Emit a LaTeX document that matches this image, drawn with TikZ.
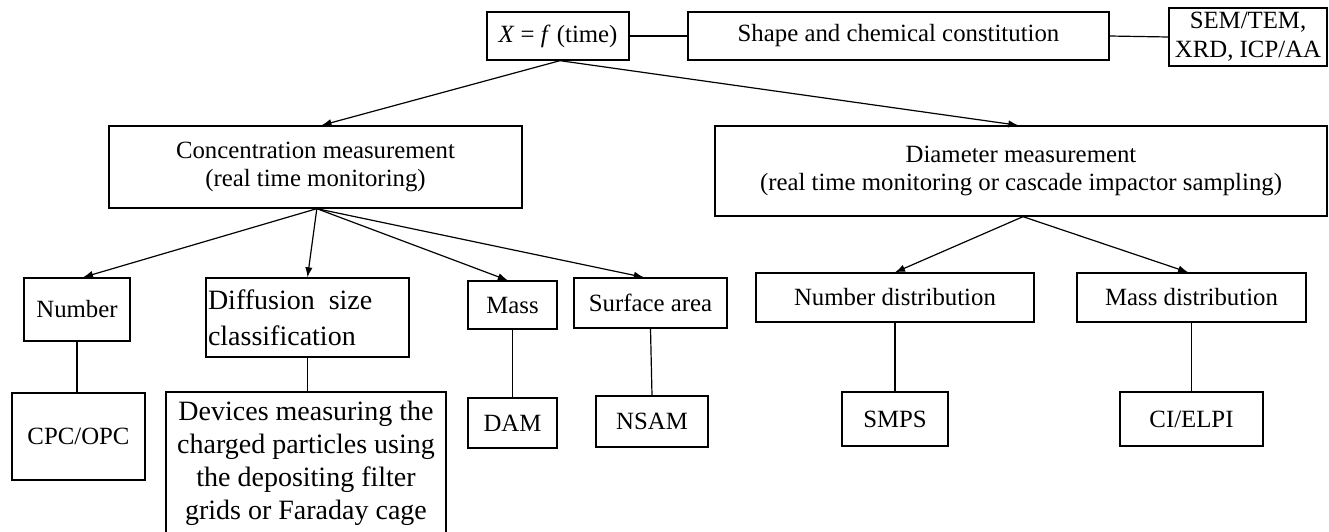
\documentclass[tikz,border=0pt]{standalone}
\usepackage{fontspec}
\setmainfont{Liberation Serif}
\usetikzlibrary{arrows.meta}
\begin{document}
\begin{tikzpicture}[x=0.75pt,y=-0.75pt,
  box/.style={draw, line width=1pt, inner sep=0pt, align=center,
    font=\fontsize{18.6}{21.5}\selectfont},
  sz/.style 2 args={minimum width=#1*0.75pt, minimum height=#2*0.75pt},
  arr/.style={-{Latex[length=7.5pt,width=5.5pt]}, line width=0.9pt},
  conn/.style={line width=0.9pt}]
\useasboundingbox[fill=white] (0,0) rectangle (1329,532);

% top row
\node[box, sz={142}{48}] (xf) at (558,36) {\textit{X} = \textit{f} (time)};
\node[box, sz={421}{48}] (shape) at (898.5,36) {Shape and chemical constitution};
\node[box, sz={158}{58}] (sem) at (1248,37) {SEM/TEM,\\XRD, ICP/AA};

% second row
\node[box, sz={413}{82}] (conc) at (315.5,167) {Concentration measurement\\(real time monitoring)};
\node[box, sz={612}{90}] (diam) at (1021,171) {Diameter measurement\\(real time monitoring or cascade impactor sampling)};

% third row
\node[box, sz={106}{63}] (num) at (77,309.5) {Number};
\node[box, sz={203}{79}, text width={199*0.75pt}, align=left, inner xsep=1.5pt,
  font=\fontsize{21}{27}\selectfont] (diff) at (307.5,317.5) {Diffusion\, size\\classification};
\node[box, sz={89}{48}] (mass) at (512.5,305) {Mass};
\node[box, sz={153}{50}] (surf) at (650.5,303) {Surface area};
\node[box, sz={278}{49}] (numd) at (895,297.5) {Number distribution};
\node[box, sz={229}{49}] (massd) at (1191.5,297.5) {Mass distribution};

% bottom row
\node[box, sz={133}{87}] (cpc) at (78.5,436.5) {CPC/OPC};
\node[box, sz={280}{142}, font=\fontsize{21}{24.75}\selectfont] (dev) at (306,463)
  {Devices measuring the\\charged particles using\\the depositing filter\\grids or Faraday cage};
\node[box, sz={89}{50}] (dam) at (512.5,423) {DAM};
\node[box, sz={112}{51}] (nsam) at (652,421.5) {NSAM};
\node[box, sz={106}{54}] (smps) at (895,419) {SMPS};
\node[box, sz={143}{54}] (ci) at (1191.5,419) {CI/ELPI};

% horizontal links
\draw[conn] (xf.east) -- (shape.west);
\draw[conn] (shape.east) -- (sem.west);

% arrows from X
\draw[arr] ([xshift=1.5pt]xf.south) -- ([xshift=4.5pt]conc.north);
\draw[arr] ([xshift=1.5pt]xf.south) -- ([xshift=-2pt]diam.north);

% fan from concentration
\draw[arr] ([xshift=1pt]conc.south) -- ([xshift=4.5pt]num.north);
\draw[arr] ([xshift=1pt]conc.south) -- (diff.north);
\draw[arr] ([xshift=1pt]conc.south) -- ([xshift=-3.5pt]mass.north);
\draw[arr] ([xshift=1pt]conc.south) -- ([xshift=-5pt]surf.north);

% fan from diameter
\draw[arr] ([xshift=1.5pt]diam.south) -- (numd.north);
\draw[arr] ([xshift=1.5pt]diam.south) -- ([xshift=-2.5pt]massd.north);

% vertical links
\draw[conn] (num.south) -- (num.south |- cpc.north);
\draw[conn] (diff.south) -- (diff.south |- dev.north);
\draw[conn] (mass.south) -- (dam.north);
\draw[conn] (surf.south) -- (nsam.north);
\draw[conn] (numd.south) -- (smps.north);
\draw[conn] (massd.south) -- (ci.north);
\end{tikzpicture}
\end{document}
